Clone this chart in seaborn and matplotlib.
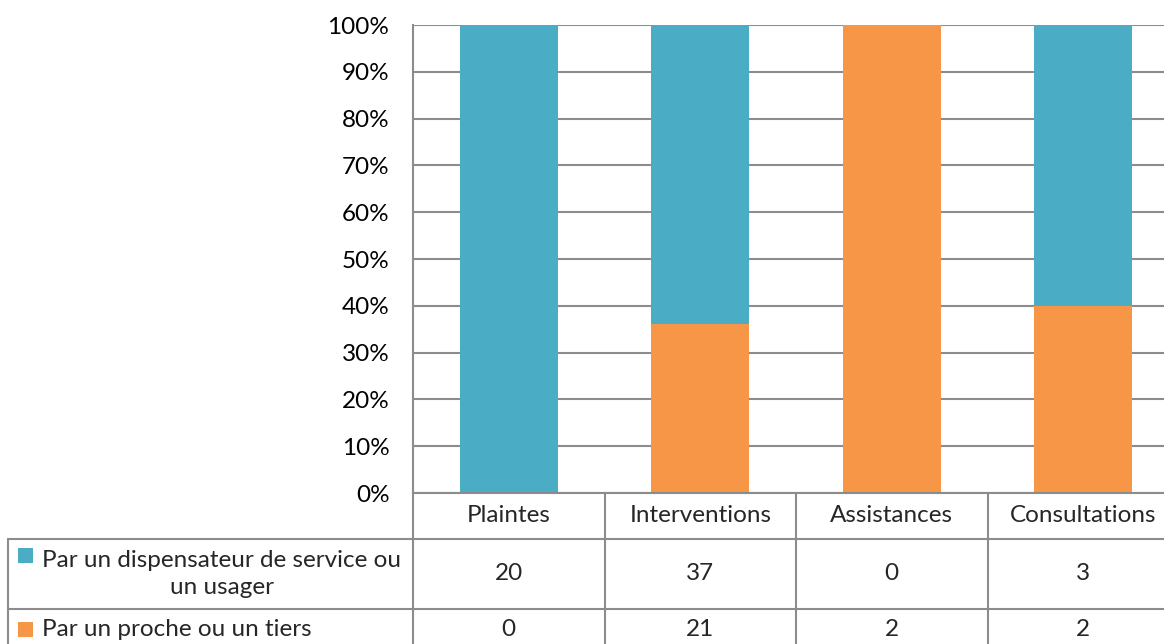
import numpy as np
import pandas as pd
import seaborn as sns
import matplotlib.pyplot as plt
from matplotlib.patches import Rectangle
from matplotlib.transforms import blended_transform_factory

categories = ["Plaintes", "Interventions", "Assistances", "Consultations"]
series_names = ["Par un dispensateur de service ou\nun usager", "Par un proche ou un tiers"]
dispensateur = [20, 37, 0, 3]
proche = [0, 21, 2, 2]
colors = ["#4BACC6", "#F79646"]

sns.set_theme(style="white")
plt.rcParams["font.family"] = ["Lato", "DejaVu Sans"]
FS = 17.5

df = pd.DataFrame({"cat": categories, "disp": dispensateur, "proche": proche})
total = df["disp"] + df["proche"]
df["total_pct"] = 100.0
df["proche_pct"] = df["proche"] / total * 100

W, H = 1164, 644
unit = 191.5  # px per category column
fig = plt.figure(figsize=(W / 100, H / 100), dpi=100)
ax = fig.add_axes([413 / W, (H - 493) / H, unit * len(categories) / W, 468 / H])

# stacked: teal full height, orange share drawn over the bottom
sns.barplot(data=df, x="cat", y="total_pct", color=colors[0], width=0.51, ax=ax,
            saturation=1, linewidth=0)
sns.barplot(data=df, x="cat", y="proche_pct", color=colors[1], width=0.51, ax=ax,
            saturation=1, linewidth=0)

ax.set_xlim(-0.5, len(categories) - 0.5)
ax.set_ylim(0, 100)
ax.set_yticks(np.arange(0, 101, 10))
ax.set_yticklabels([f"{v}%" for v in range(0, 101, 10)], fontsize=FS, color="black")
ax.tick_params(axis="y", length=0, pad=17)
ax.set_xticks([])
ax.set_xlabel("")
ax.set_ylabel("")
ax.set_axisbelow(True)
ax.yaxis.grid(True, color="#8c8c8c", linewidth=1.5)
for s in ["top", "right"]:
    ax.spines[s].set_visible(False)
for s in ["left", "bottom"]:
    ax.spines[s].set_color("#8c8c8c")
    ax.spines[s].set_linewidth(1.5)

# data table under the plot
tr = blended_transform_factory(ax.transData, ax.transAxes)
px = 1 / 468
x_left = -0.5 - (413 - 8) / unit
x_right = len(categories) - 0.5
y_head = -46 * px
y_r1 = -116 * px
y_r2 = -160 * px
lc = "#8c8c8c"
lw = 1.5

def hline(x0, x1, y):
    ax.plot([x0, x1], [y, y], color=lc, lw=lw, transform=tr, clip_on=False)

def vline(x, y0, y1):
    ax.plot([x, x], [y0, y1], color=lc, lw=lw, transform=tr, clip_on=False)

hline(x_left, x_right, y_head)
hline(x_left, x_right, y_r1)
vline(x_left, y_head, y_r2)
row1_y = (y_head + y_r1) / 2
row2_y = y_r1 - 20 * px
for i in range(len(categories)):
    vline(i - 0.5, 0, y_r2)
    ax.text(i, y_head / 2, categories[i], ha="center", va="center", fontsize=FS, transform=tr)
    ax.text(i, row1_y, str(dispensateur[i]), ha="center", va="center", fontsize=FS, transform=tr)
    ax.text(i, row2_y, str(proche[i]), ha="center", va="center", fontsize=FS, transform=tr)

sq_x = x_left + 10 / unit
txt_x = x_left + 34 / unit
rows_y = [row1_y, row2_y]
first_line_y = [y_head - 16 * px, row2_y]
sq = 15
for k in range(2):
    ax.add_patch(Rectangle((sq_x, first_line_y[k] - sq / 2 * px), sq / unit, sq * px,
                           color=colors[k], transform=tr, clip_on=False, linewidth=0))
    ax.text(txt_x, rows_y[k], series_names[k], ha="left", va="center", multialignment="center",
            fontsize=FS, transform=tr, linespacing=1.4)

fig.savefig("out.png", dpi=100)
